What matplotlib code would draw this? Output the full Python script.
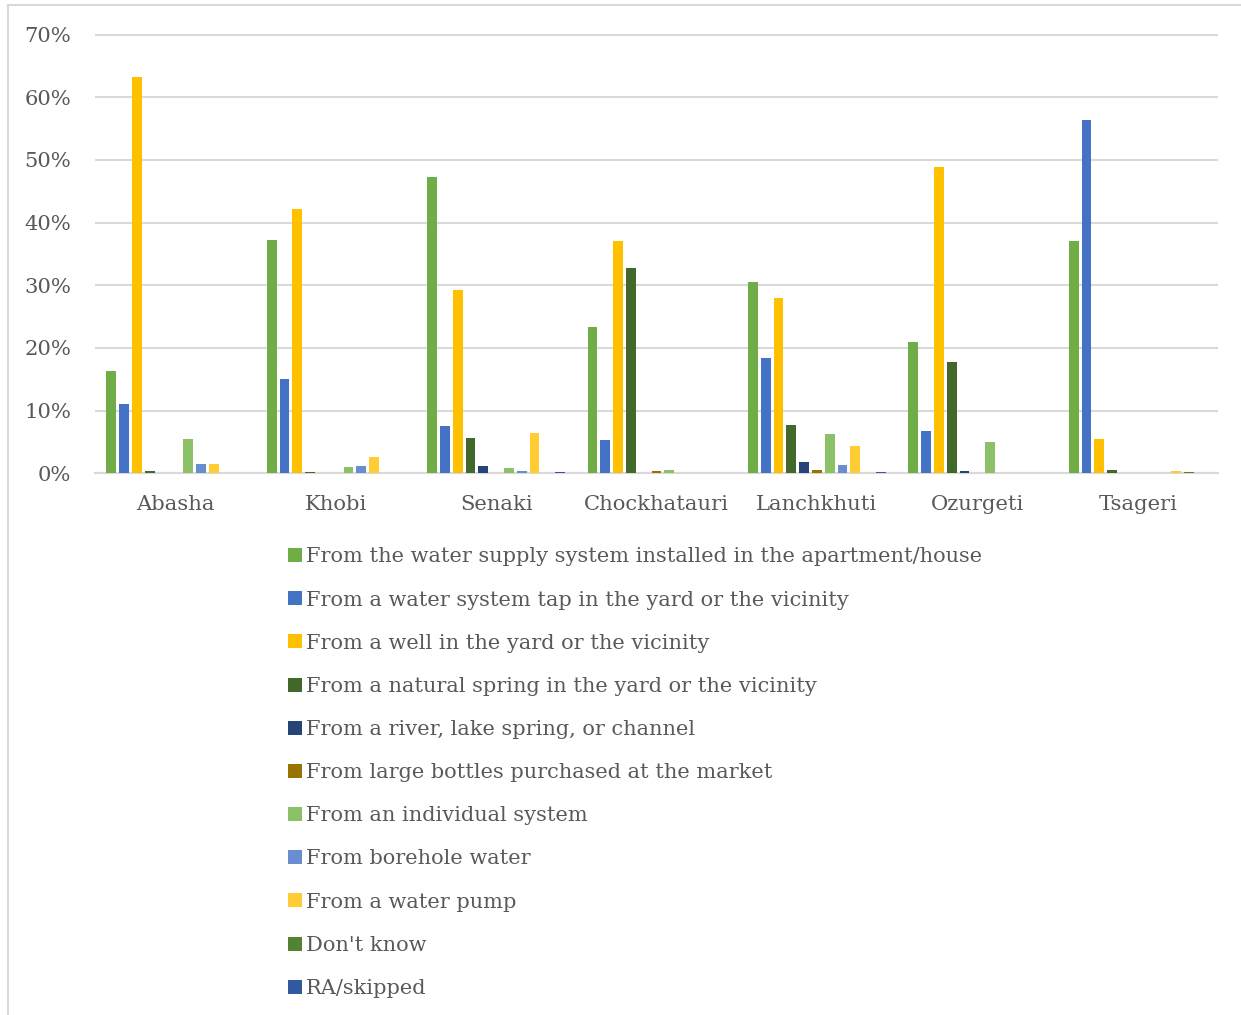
import numpy as np
import matplotlib
matplotlib.use("Agg")
import matplotlib.pyplot as plt
import matplotlib.ticker as mticker
from matplotlib.lines import Line2D

plt.rcParams["font.family"] = ["DejaVu Serif"]

districts = ["Abasha", "Khobi", "Senaki", "Chockhatauri", "Lanchkhuti", "Ozurgeti", "Tsageri"]

sources = [
    "From the water supply system installed in the apartment/house",
    "From a water system tap in the yard or the vicinity",
    "From a well in the yard or the vicinity",
    "From a natural spring in the yard or the vicinity",
    "From a river, lake spring, or channel",
    "From large bottles purchased at the market",
    "From an individual system",
    "From borehole water",
    "From a water pump",
    "Don't know",
    "RA/skipped",
]

# share of households, % (one list per district, in the order of `sources`)
abasha       = [16.4, 11.0, 63.2, 0.3, 0.0, 0.0, 5.4, 1.5, 1.5, 0.0, 0.0]
khobi        = [37.3, 15.0, 42.1, 0.2, 0.0, 0.0, 1.0, 1.1, 2.6, 0.0, 0.0]
senaki       = [47.3, 7.6, 29.3, 5.7, 1.2, 0.0, 0.9, 0.4, 6.4, 0.0, 0.2]
chockhatauri = [23.4, 5.3, 37.1, 32.8, 0.0, 0.3, 0.5, 0.1, 0.0, 0.0, 0.0]
lanchkhuti   = [30.6, 18.4, 28.0, 7.7, 1.8, 0.6, 6.3, 1.4, 4.4, 0.0, 0.25]
ozurgeti     = [21.0, 6.8, 48.9, 17.7, 0.3, 0.0, 5.0, 0.0, 0.0, 0.0, 0.0]
tsageri      = [37.0, 56.3, 5.4, 0.5, 0.0, 0.0, 0.0, 0.0, 0.3, 0.15, 0.0]

colors = ["#70AD47", "#4472C4", "#FFC000", "#43682B", "#264478", "#997300",
          "#8CC168", "#698ED0", "#FFCD33", "#548235", "#335AA1"]

C = {"grid": "#D9D9D9", "text": "#595959", "border": "#D9D9D9"}

values = np.array([abasha, khobi, senaki, chockhatauri, lanchkhuti, ozurgeti, tsageri]) / 100.0

fig = plt.figure(figsize=(12.41, 10.15), dpi=100)
fig.patch.set_facecolor("white")
ax = fig.add_axes([95 / 1241, 1 - 473.3 / 1015, (1218 - 95) / 1241, (473.3 - 33.7) / 1015])

n = len(sources)
slot = 0.0798
bar_w = 0.061
x = np.arange(len(districts))
for i, (name, col) in enumerate(zip(sources, colors)):
    ax.bar(x + (i - (n - 1) / 2) * slot, values[:, i], width=bar_w, color=col,
           label=name, zorder=3, linewidth=0)

ax.set_xlim(-0.5, len(districts) - 0.5)
ax.set_ylim(0, 0.7015)
ax.yaxis.set_major_locator(mticker.MultipleLocator(0.10))
ax.yaxis.set_major_formatter(mticker.FuncFormatter(lambda v, p: f"{v * 100:.0f}%"))
ax.set_xticks(x)
ax.set_xticklabels(districts)
ax.tick_params(length=0, labelsize=15.2, colors=C["text"])
ax.tick_params(axis="y", pad=17)
ax.tick_params(axis="x", pad=15.5)
ax.grid(axis="y", color=C["grid"], lw=1.5, zorder=0)
for sp in ["top", "right", "left"]:
    ax.spines[sp].set_visible(False)
ax.spines["bottom"].set_color(C["grid"])
ax.spines["bottom"].set_linewidth(1.5)

# legend, one column under the plot
handles = [Line2D([], [], marker="s", ls="none", markersize=9.5, color=c, markeredgewidth=0)
           for c in colors]
fig.legend(handles, sources, loc="upper left", bbox_to_anchor=(276 / 1241, 1 - 539 / 1015),
           frameon=False, fontsize=15.0, labelcolor=C["text"], handletextpad=0.05,
           handlelength=1.0, labelspacing=1.16, borderaxespad=0)

# outer chart border (only left and top edges are inside the picture)
fig.add_artist(Line2D([7.5 / 1241, 7.5 / 1241], [0, 1 - 5 / 1015], color=C["border"], lw=1.5))
fig.add_artist(Line2D([7.5 / 1241, 1], [1 - 5 / 1015, 1 - 5 / 1015], color=C["border"], lw=1.5))

fig.savefig("out.png", dpi=100, facecolor="white")
